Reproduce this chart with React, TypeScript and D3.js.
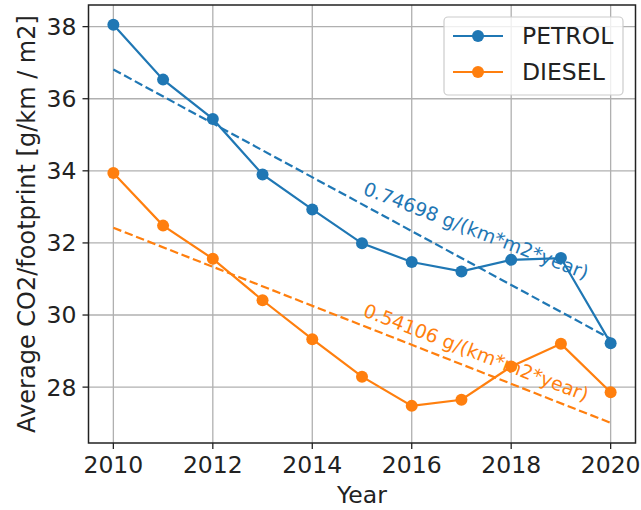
import React from "react";
import * as d3 from "d3";

const years = [2010, 2011, 2012, 2013, 2014, 2015, 2016, 2017, 2018, 2019, 2020];
const petrol = [38.05, 36.53, 35.44, 33.9, 32.93, 31.99, 31.47, 31.21, 31.53, 31.58, 29.22];
const diesel = [33.94, 32.48, 31.56, 30.41, 29.33, 28.29, 27.48, 27.65, 28.57, 29.2, 27.86];

// fitted trend lines at 2010 and 2020
const trendYears = [2010, 2020];
const petrolTrend = [36.81, 29.34];
const dieselTrend = [32.42, 27.01];

const xTicks = [2010, 2012, 2014, 2016, 2018, 2020];
const yTicks = [28, 30, 32, 34, 36, 38];

const seriesNames = ["PETROL", "DIESEL"];
const slopeLabels = ["0.74698 g/(km*m2*year)", "0.54106 g/(km*m2*year)"];
const labelAnchors = [33.36, 29.98]; // y value where each slope label starts (at 2015)

const colors = ["#1f77b4", "#ff7f0e"];
const font = "'DejaVu Sans', sans-serif";

export default function App() {
  const width = 641;
  const height = 510;
  const plot = { left: 88.5, right: 635.5, top: 5, bottom: 443 };

  const x = d3.scaleLinear().domain([2009.5, 2020.5]).range([plot.left, plot.right]);
  const y = d3.scaleLinear().domain([26.45, 38.6]).range([plot.bottom, plot.top]);

  const line = d3
    .line<number>()
    .x((_, i) => x(years[i]))
    .y((d) => y(d));

  const trendLine = d3
    .line<number>()
    .x((_, i) => x(trendYears[i]))
    .y((d) => y(d));

  const series = [petrol, diesel];
  const trends = [petrolTrend, dieselTrend];

  return (
    <svg
      width={width}
      height={height}
      style={{ position: "absolute", left: 0, top: 0, background: "white" }}
      fontFamily={font}
    >
      <rect width={width} height={height} fill="white" />

      {/* grid */}
      {xTicks.map((t) => (
        <line key={"gx" + t} x1={x(t)} x2={x(t)} y1={plot.top} y2={plot.bottom} stroke="#b0b0b0" strokeWidth={1.3} />
      ))}
      {yTicks.map((t) => (
        <line key={"gy" + t} x1={plot.left} x2={plot.right} y1={y(t)} y2={y(t)} stroke="#b0b0b0" strokeWidth={1.3} />
      ))}

      {/* trend lines */}
      {trends.map((tr, i) => (
        <path key={"tr" + i} d={trendLine(tr) || ""} fill="none" stroke={colors[i]} strokeWidth={2.2} strokeDasharray="8.5,3.7" />
      ))}

      {/* data lines + markers */}
      {series.map((s, i) => (
        <g key={"s" + i}>
          <path d={line(s) || ""} fill="none" stroke={colors[i]} strokeWidth={2.2} />
          {s.map((v, j) => (
            <circle key={j} cx={x(years[j])} cy={y(v)} r={6} fill={colors[i]} />
          ))}
        </g>
      ))}

      {/* slope labels */}
      {slopeLabels.map((txt, i) => (
        <text
          key={"lab" + i}
          transform={`translate(${x(2015)},${y(labelAnchors[i])}) rotate(21)`}
          fill={colors[i]}
          fontSize={19}
        >
          {txt}
        </text>
      ))}

      {/* frame */}
      <rect
        x={plot.left}
        y={plot.top}
        width={plot.right - plot.left}
        height={plot.bottom - plot.top}
        fill="none"
        stroke="#222"
        strokeWidth={1.5}
      />

      {/* x axis ticks */}
      {xTicks.map((t) => (
        <g key={"xt" + t} transform={`translate(${x(t)},${plot.bottom})`}>
          <line y2={6} stroke="#222" strokeWidth={1.3} />
          <text y={30} textAnchor="middle" fontSize={23.5} fill="#222">
            {t}
          </text>
        </g>
      ))}
      {/* y axis ticks */}
      {yTicks.map((t) => (
        <g key={"yt" + t} transform={`translate(${plot.left},${y(t)})`}>
          <line x2={-6} stroke="#222" strokeWidth={1.3} />
          <text x={-12} dy="0.36em" textAnchor="end" fontSize={23.5} fill="#222">
            {t}
          </text>
        </g>
      ))}

      {/* axis titles */}
      <text x={(plot.left + plot.right) / 2} y={503} textAnchor="middle" fontSize={23.5} fill="#222">
        Year
      </text>
      <text
        transform={`translate(35,${(plot.top + plot.bottom) / 2}) rotate(-90)`}
        textAnchor="middle"
        fontSize={24}
        fill="#222"
      >
        Average CO2/footprint [g/km / m2]
      </text>

      {/* legend */}
      <g>
        <rect x={444} y={17} width={179} height={78} rx={4} fill="white" fillOpacity={0.8} stroke="#cccccc" strokeWidth={1.2} />
        {seriesNames.map((name, i) => (
          <g key={"lg" + i} transform={`translate(0,${36 + i * 36})`}>
            <line x1={453} x2={503} stroke={colors[i]} strokeWidth={2.2} />
            <circle cx={478} cy={0} r={6} fill={colors[i]} />
            <text x={522} dy="0.36em" fontSize={23.5} fill="#222">
              {name}
            </text>
          </g>
        ))}
      </g>
    </svg>
  );
}
